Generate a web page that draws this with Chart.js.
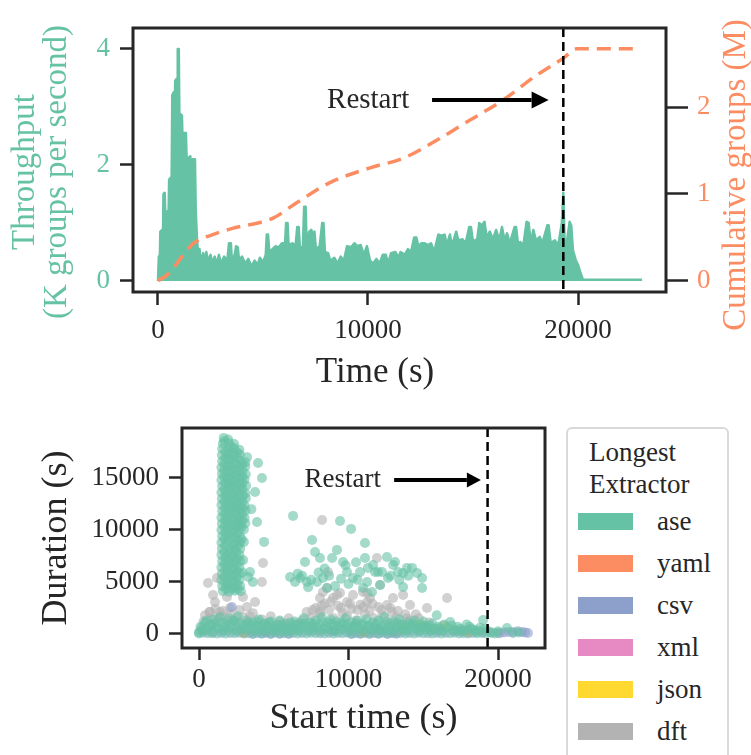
<!DOCTYPE html>
<html>
<head>
<meta charset="utf-8">
<script src="https://cdn.jsdelivr.net/npm/chart.js@4.4.1/dist/chart.umd.min.js"></script>
<style>
  html, body { margin: 0; padding: 0; background: #fff; width: 751px; height: 755px; overflow: hidden; }
  #topBox { position: absolute; left: 0; top: 0; width: 751px; height: 400px; }
  #bottomBox { position: absolute; left: 0; top: 400px; width: 751px; height: 355px; }
  #legend { position: absolute; left: 566px; top: 427px; width: 159px; height: 340px;
            border: 2px solid #d9d9d9; border-radius: 6px; background: #fff;
            font-family: "Liberation Serif", serif; color: #262626; }
  #legend .title { margin: 7px 0 0 21px; font-size: 27px; line-height: 32px; }
  #legend ul { list-style: none; margin: 0; padding: 0; }
  #legend li { height: 42px; display: flex; align-items: center; }
  #legend .patch { width: 55px; height: 17px; margin-left: 10px; }
  #legend .lab { margin-left: 24px; font-size: 27px; }
</style>
</head>
<body>
<div id="topBox"><canvas id="topChart" width="751" height="400"></canvas></div>
<div id="bottomBox"><canvas id="bottomChart" width="751" height="355"></canvas></div>
<div id="legend"></div>
<script>
// ---- top panel: throughput (K groups / s) and cumulative groups (M) over time (s)
const throughput = [
  [0,0],[40,0.42],[90,0.45],[110,0.85],[200,0.88],[230,0.6],[260,1.5],[320,1.52],[350,1.15],[450,1.2],
  [500,1.05],[530,1.75],[600,1.78],[640,1.3],[680,3.2],[740,3.25],[780,2.6],[820,3.45],[880,3.48],[920,2.9],
  [940,4.0],[990,4.0],[1020,2.8],[1060,2.88],[1140,2.85],[1180,2.3],[1240,2.55],[1330,2.55],[1380,1.9],[1440,2.12],
  [1540,2.15],[1600,1.7],[1660,2.1],[1760,2.1],[1800,1.2],[1860,0.7],[1920,0.45],[1980,0.55],[2050,0.3],[2150,0.48],
  [2250,0.35],[2300,0.5],[2400,0.32],[2500,0.45],[2600,0.3],[2700,0.42],[2800,0.28],[2900,0.45],[3000,0.3],[3150,0.42],
  [3300,0.35],[3380,0.65],[3470,0.65],[3520,0.35],[3650,0.45],[3720,0.6],[3800,0.58],[3860,0.35],[4000,0.42],[4150,0.3],
  [4300,0.38],[4450,0.25],[4600,0.35],[4750,0.28],[4850,0.4],[5000,0.32],[5130,0.45],[5180,0.8],[5240,0.8],[5300,0.5],
  [5450,0.55],[5600,0.6],[5750,0.58],[5900,0.65],[6050,0.65],[6100,1.0],[6170,1.0],[6220,0.62],[6400,0.65],[6550,0.6],
  [6630,0.93],[6700,0.93],[6760,0.55],[6900,0.6],[6960,1.28],[7030,1.28],[7080,0.6],[7200,0.85],[7300,0.88],[7380,0.8],
  [7450,0.85],[7520,0.55],[7700,0.6],[7820,1.0],[7880,1.0],[7950,0.5],[8100,0.48],[8200,0.35],[8400,0.4],[8550,0.3],
  [8700,0.42],[8850,0.35],[9000,0.6],[9200,0.58],[9350,0.65],[9500,0.6],[9650,0.62],[9800,0.45],[9950,0.6],[10100,0.35],
  [10250,0.3],[10400,0.38],[10550,0.3],[10700,0.45],[10850,0.45],[10950,0.3],[11100,0.48],[11300,0.5],[11450,0.4],[11550,0.5],
  [11750,0.45],[11900,0.55],[12050,0.5],[12200,0.75],[12300,0.75],[12400,0.6],[12550,0.65],[12700,0.65],[12850,0.62],[13000,0.65],
  [13150,0.5],[13350,0.8],[13500,0.78],[13650,0.8],[13750,0.62],[13900,0.8],[14000,0.6],[14200,0.85],[14300,0.7],[14500,0.72],
  [14650,0.65],[14820,0.93],[14900,0.93],[15000,0.68],[15200,0.72],[15300,1.0],[15400,0.95],[15550,1.02],[15650,0.75],[15800,0.85],
  [15950,0.72],[16100,0.88],[16250,0.7],[16380,0.93],[16500,0.7],[16620,0.82],[16750,0.65],[16980,0.93],[17050,0.93],[17150,0.62],
  [17250,0.67],[17400,0.62],[17550,1.02],[17650,1.0],[17750,0.65],[17870,0.88],[18000,0.7],[18180,0.76],[18300,0.65],[18540,0.96],
  [18600,0.96],[18700,0.65],[18900,0.7],[19050,0.6],[19230,1.0],[19300,1.52],[19360,0.7],[19450,0.62],[19600,1.02],[19680,0.95],
  [19760,0.53],[19900,0.35],[20000,0.28],[20100,0.16],[20240,0.02],[23050,0.02]
];
const cumulative = [
  [0,0],[450,0.07],[900,0.2],[1400,0.36],[1860,0.46],[2480,0.52],[3500,0.6],[5000,0.68],[5480,0.72],[6620,0.9],
  [8190,1.13],[10100,1.3],[11670,1.41],[13290,1.62],[14860,1.85],[16430,2.08],[18050,2.37],[19290,2.56],[19950,2.67],[22950,2.67]
];
const restartTime = 19300;
const timeTicks = [0, 10000, 20000];
const throughputTicks = [0, 2, 4];
const cumulativeTicks = [0, 1, 2];

// ---- bottom panel: job start time (s) vs duration (s), by longest extractor
const extractors = ['ase', 'yaml', 'csv', 'xml', 'json', 'dft'];
const extractorColors = ['#66c2a5', '#fc8d62', '#8da0cb', '#e78ac3', '#ffd92f', '#b3b3b3'];
const aseJobs = [
  [1650,18850],[1950,18700],[1600,18300],[2000,18350],[2350,18250],[1550,17800],[1950,17750],[2350,17850],[2700,17700],
  [1530,17200],[1930,17250],[2330,17150],[2730,17250],[1550,16600],[1950,16650],[2350,16550],[2750,16650],[3100,16500],
  [1500,16000],[1900,16050],[2300,15950],[2700,16000],[3100,16100],[1530,15400],[1930,15450],[2330,15350],[2730,15400],[3130,15350],
  [1500,14800],[1900,14850],[2300,14750],[2700,14800],[3050,14850],[1550,14200],[1950,14250],[2350,14150],[2750,14200],[3150,14250],
  [1500,13600],[1900,13650],[2300,13550],[2700,13600],[3100,13500],[1530,13000],[1930,13050],[2330,12950],[2730,13000],[3130,13050],
  [1500,12400],[1900,12450],[2300,12350],[2700,12400],[3050,12350],[1550,11800],[1950,11850],[2350,11750],[2750,11800],[3100,11850],
  [1500,11200],[1900,11250],[2300,11150],[2700,11200],[3050,11150],[1530,10600],[1930,10650],[2330,10550],[2730,10600],[3100,10650],
  [1500,10000],[1900,10050],[2300,9950],[2700,10000],[3000,10050],[1550,9400],[1950,9450],[2350,9350],[2750,9400],
  [1500,8800],[1900,8850],[2350,8750],[2750,8800],[3000,8850],[1530,8200],[2050,8250],[2400,8150],[2750,8200],
  [1500,7600],[1900,7650],[2300,7550],[2700,7600],[1550,7000],[1950,7050],[2350,6950],[2750,7000],[2950,7100],
  [1500,6400],[1900,6450],[2300,6350],[2700,6400],[1530,5800],[1930,5850],[2330,5750],[2730,5800],[2900,5900],
  [1500,5200],[1900,5250],[2300,5150],[2700,5200],[1550,4600],[1950,4650],[2350,4550],[2750,4600],
  [1600,4100],[2000,4050],[2400,4150],[2800,4100],
  [1700,18550],[2150,18000],[1750,17500],[2150,17450],[2550,17450],[1750,16900],[2150,16850],[2550,16950],[1700,16300],[2100,16250],
  [2500,16350],[2900,16300],[1700,15700],[2100,15750],[2500,15650],[2900,15700],[1700,15100],[2100,15050],[2500,15150],[2900,15100],
  [1750,14500],[2150,14550],[2550,14450],[2900,14500],[1700,13900],[2100,13950],[2500,13850],[2900,13900],[1750,13300],[2150,13300],
  [2550,13250],[2950,13300],[1700,12700],[2100,12700],[2500,12650],[2900,12700],[1750,12100],[2150,12100],[2550,12050],[2900,12100],
  [1700,11500],[2100,11500],[2500,11450],[2900,11500],[1750,10900],[2150,10900],[2550,10850],[2900,10900],[1700,10300],[2100,10300],
  [2500,10250],[2850,10300],[1750,9700],[2150,9700],[2550,9650],[1700,9100],[2100,9100],[2550,9050],[2850,9100],[1750,8500],
  [2250,8500],[2600,8450],[1700,7900],[2100,7900],[2500,7850],[1750,7300],[2150,7300],[2550,7250],[1700,6700],[2100,6700],
  [2500,6650],[1750,6100],[2150,6100],[2550,6050],[1700,5500],[2100,5500],[2500,5450],[1750,4900],[2150,4900],[2550,4850],
  [1800,4350],[2200,4350],[2600,4300],
  [3210,17000],[3950,16440],[4210,15000],[3750,13650],[3500,12000],[3880,10770],[4350,8850],[3410,5960],[3300,5480],[3600,5000],
  [6290,11350],[6090,5480],[6420,5000],[6760,5380],[7220,5000],[7090,6920],[7560,9040],[7760,7880],[8090,7300],[8290,5380],
  [7890,5000],[8560,4420],[8900,7300],[9230,8080],[9430,10860],[9630,6920],[9900,5960],[10170,10100],[10300,5380],[10770,5960],
  [11100,8750],[11240,5000],[11640,6630],[11970,5960],[11100,7300],[11300,6350],[10970,4420],[11770,5960],[12240,5960],[12570,7400],
  [12640,5380],[12980,6630],[13110,6920],[13310,5960],[13650,4520],[13910,6350],[14250,6350],[14580,5870],[14920,5380],[14920,4420],
  [13650,5870],[12110,4710],[11570,4040],[6900,5600],[7500,5200],[8000,5900],[8700,5600],[9500,5300],[10000,4800],[10600,5200],
  [9100,4600],[7300,4500],[6600,5800],[8400,6300],[9800,6600],[10500,6900],[12800,5600],[13400,5200],[14000,5600],
  [0,150],[200,600],[400,1100],[600,400],[800,900],[1000,1400],[1200,700],[1400,1600],[1600,300],[1800,1000],
  [2000,1500],[2200,600],[2400,1200],[2600,1700],[2800,400],[3000,900],[3200,1300],[3400,500],[3600,1100],[3800,800],
  [4000,1400],[4200,300],[4400,1000],[4600,700],[4800,1200],[5000,400],[5200,900],[5400,1300],[5600,600],[5800,1000],
  [6000,300],[6200,800],[6400,1200],[6600,500],[6800,1000],[7000,1500],[7200,700],[7400,1100],[7600,400],[7800,1300],
  [8000,900],[8200,1600],[8400,500],[8600,1100],[8800,1400],[9000,700],[9200,1200],[9400,400],[9600,1000],[9800,1500],
  [10000,600],[10200,1100],[10400,800],[10600,1300],[10800,400],[11000,1000],[11200,1400],[11400,700],[11600,1100],[11800,500],
  [12000,1300],[12200,800],[12400,1600],[12600,400],[12800,1000],[13000,1200],[13200,600],[13400,1400],[13600,900],[13800,300],
  [14000,1100],[14200,700],[14400,1300],[14600,500],[14800,900],[15000,1200],[15200,400],[15400,800],[15600,1000],[15900,1800],
  [16100,500],[16400,900],[16800,1150],[17000,400],[17300,700],[17600,300],[17900,900],[18200,500],[18500,200],[18800,600],
  [19000,1350],[19300,300],[19600,150],[20000,250],[20600,580],[21000,200],[21400,150],
  [100,700],[300,300],[500,1300],[700,800],[900,200],[1100,1000],[1300,500],[1500,1100],[1700,700],[1900,400],
  [2100,900],[2300,1300],[2500,300],[2700,1000],[2900,700],[3100,400],[3300,1000],[3500,800],[3700,300],[3900,1200],
  [4100,600],[4300,900],[4500,400],[4700,1100],[4900,800],[5100,300],[5300,600],[5500,900],[5700,300],[5900,600],
  [6100,1100],[6300,400],[6500,900],[6700,300],[6900,700],[7100,1000],[7300,300],[7500,800],[7700,1000],[7900,600],
  [8100,300],[8300,1100],[8500,800],[8700,400],[8900,1000],[9100,300],[9300,800],[9500,1100],[9700,500],[9900,900],
  [10100,300],[10300,700],[10500,1000],[10700,600],[10900,900],[11100,300],[11300,800],[11500,400],[11700,700],[11900,1000],
  [12100,500],[12300,300],[12500,900],[12700,700],[12900,300],[13100,800],[13300,1000],[13500,400],[13700,600],[13900,800],
  [14100,400],[14300,900],[14500,800],[14700,300],[14900,600],[15100,800],[15300,600],[15500,300],[15700,500],[16000,700],
  [16300,300],[16600,600],[16900,800],[17200,300],[17500,500],[17800,300],[18100,700],[18400,400],[18700,300],[19100,500],
  [0,50],[600,60],[1200,40],[1800,50],[2400,60],[3000,40],[3600,50],[4200,60],[4800,40],[5400,50],[6000,60],[6600,40],
  [7200,50],[7800,60],[8400,40],[9000,50],[9600,60],[10200,40],[10800,50],[11400,60],[12000,40],[12600,50],[13200,60],
  [13800,40],[14400,50],[15000,60],[15600,40],[16200,50],[16800,60],[17400,40],[18000,50],[18600,60],[19200,40],[19800,50]
];
const yamlJobs = [[3000,100],[11000,200],[18000,150]];
const csvJobs = [
  [300,120],[900,80],[1500,100],[2100,90],[2700,110],[3300,80],[3900,100],[4500,90],[5100,110],[5700,80],[6300,100],
  [6900,90],[7500,110],[8100,80],[8700,100],[9300,90],[9900,110],[10500,80],[11100,100],[11700,90],[12300,110],[12900,80],
  [13500,100],[14100,90],[14700,110],[15300,80],[15900,100],[16500,90],[17100,110],[17700,80],[18300,100],[18900,90],
  [19500,110],[20100,80],[20700,200],[21300,250],[21800,150],[22000,100],
  [3600,0],[4200,20],[4800,0],[5400,20],[6000,0],[10200,0],[10800,20],[11400,0],[12000,20],[12600,0],[13200,20],
  [2200,2600],[5000,350],[9000,300],[12000,400],[16000,300],[20400,150],[21000,100],[21600,200]
];
const xmlJobs = [[4500,200],[9000,300],[13000,150],[17500,250]];
const jsonJobs = [[13500,600],[14800,900],[15600,400],[16500,700],[17200,350]];
const dftJobs = [
  [100,300],[400,1800],[700,2100],[900,900],[1100,2400],[1300,1500],[1600,2200],[1900,1300],[2100,1900],[2400,800],
  [2700,2300],[3000,1600],[3300,1100],[3600,2000],[3900,700],[4200,1400],[4500,900],[4800,1700],[5100,500],[5400,1200],
  [5700,800],[6000,1500],[6300,600],[6600,1000],[6900,1300],[7200,2100],[7500,1600],[7800,2500],[8100,1900],[8400,2900],
  [8700,2300],[9000,1500],[9300,2700],[9600,2000],[9900,1700],[10200,2400],[10500,1300],[10800,2800],[11100,1900],[11400,2200],
  [11700,1500],[12000,2600],[12300,1800],[12600,1200],[12900,2100],[13200,1600],[13500,900],[13800,1900],[14100,1300],[14400,1000],
  [14700,1500],[15000,700],[15400,1100],[15800,500],[16300,800],[17000,300],[18000,400],[19000,200],[20000,100],
  [600,4900],[1200,5380],[940,3750],[1070,3080],[1870,3560],[2940,3560],[3750,3080],[3210,2600],[4280,6830],[4210,5000],
  [8230,10960],[8630,5960],[8290,4040],[8960,3460],[9430,3940],[9900,3080],[10300,3750],[10970,4040],[11900,7300],[12110,4710],
  [11240,3080],[8090,3460],[8090,2120],[2070,2500],[1400,2120],[740,2120],[16590,3460],[12980,3460],[11440,3460],[13650,3750],
  [14110,2790],[12570,2790],[15250,2500],[8560,4420],[9230,3750],[11240,3940],
  [300,1200],[800,1500],[1500,1800],[2500,1500],[3400,1700],[7600,2300],[8200,2700],[8800,3100],[9500,2500],[10100,2900],
  [10600,2300],[11000,2600],[11600,2900],[12200,2300],[12800,2500],[13300,2200],[13900,1500],[14500,1900]
];
const jobsByExtractor = [aseJobs, yamlJobs, csvJobs, xmlJobs, jsonJobs, dftJobs];
const durationTicks = [0, 5000, 10000, 15000];
const startTicks = [0, 10000, 20000];

const FONT = '"Liberation Serif", serif';
const INK = '#262626';
Chart.defaults.font.family = FONT;
Chart.defaults.color = INK;

function fixedTicks(values) {
  return function (scale) { scale.ticks = values.map(v => ({ value: v })); };
}
function fixedWidth(w) { return function (scale) { scale.width = w; }; }
function fixedHeight(h) { return function (scale) { scale.height = h; }; }
function plain(v) { return String(v); }
function toPoints(pairs) { return pairs.map(p => ({ x: p[0], y: p[1] })); }
function rgba(hex, a) {
  const n = parseInt(hex.slice(1), 16);
  return 'rgba(' + (n >> 16) + ',' + ((n >> 8) & 255) + ',' + (n & 255) + ',' + a + ')';
}

function axisGrid(len) {
  return { drawOnChartArea: false, drawTicks: true, tickLength: len, tickWidth: 2.5, tickColor: INK, color: INK };
}

const framePlugin = {
  id: 'frame',
  afterDraw(chart) {
    const a = chart.chartArea, ctx = chart.ctx;
    ctx.save();
    ctx.strokeStyle = INK;
    ctx.lineWidth = 3;
    ctx.strokeRect(a.left, a.top, a.right - a.left, a.bottom - a.top);
    ctx.restore();
  }
};

const restartPlugin = {
  id: 'restart',
  afterDatasetsDraw(chart, args, o) {
    const xs = chart.scales.x, ys = chart.scales[o.yAxis];
    const a = chart.chartArea, ctx = chart.ctx;
    const px = xs.getPixelForValue(restartTime);
    ctx.save();
    ctx.strokeStyle = '#000';
    ctx.fillStyle = '#000';
    ctx.lineWidth = 2.5;
    ctx.setLineDash([9, 5]);
    ctx.beginPath();
    ctx.moveTo(px, a.top);
    ctx.lineTo(px, a.bottom);
    ctx.stroke();
    ctx.setLineDash([]);
    const ty = ys.getPixelForValue(o.labelY);
    ctx.font = o.fontSize + 'px ' + FONT;
    ctx.fillStyle = INK;
    ctx.textAlign = 'left';
    ctx.textBaseline = 'middle';
    ctx.fillText('Restart', xs.getPixelForValue(restartTime - o.labelBack), ty);
    const x0 = xs.getPixelForValue(restartTime - o.arrowBack);
    const x1 = xs.getPixelForValue(restartTime - o.arrowGap);
    ctx.fillStyle = '#000';
    ctx.lineWidth = 4;
    ctx.beginPath();
    ctx.moveTo(x0, ty);
    ctx.lineTo(x1 - o.head, ty);
    ctx.stroke();
    ctx.beginPath();
    ctx.moveTo(x1, ty);
    ctx.lineTo(x1 - o.head, ty - o.half);
    ctx.lineTo(x1 - o.head, ty + o.half);
    ctx.closePath();
    ctx.fill();
    ctx.restore();
  }
};

// axis titles of the top panel (right one reads bottom-to-top like the left)
const titlePlugin = {
  id: 'titles',
  afterDraw(chart, args, o) {
    const ctx = chart.ctx;
    (o.items || []).forEach(t => {
      ctx.save();
      ctx.translate(t.x, t.y);
      if (t.rotate) ctx.rotate(-Math.PI / 2);
      ctx.font = t.size + 'px ' + FONT;
      ctx.fillStyle = t.color;
      ctx.textAlign = 'center';
      ctx.textBaseline = 'middle';
      ctx.fillText(t.text, 0, 0);
      ctx.restore();
    });
  }
};

new Chart(document.getElementById('topChart'), {
  type: 'line',
  data: {
    datasets: [{
      label: 'Cumulative groups',
      data: toPoints(cumulative),
      yAxisID: 'y1',
      order: 0,
      borderColor: '#fc8d62',
      borderWidth: 3.5,
      borderDash: [14, 8],
      pointRadius: 0,
      fill: false,
      cubicInterpolationMode: 'monotone'
    }, {
      label: 'Throughput',
      data: toPoints(throughput),
      yAxisID: 'y',
      order: 1,
      borderColor: '#66c2a5',
      backgroundColor: '#66c2a5',
      borderWidth: 2.5,
      borderJoinStyle: 'round',
      pointRadius: 0,
      fill: 'origin',
      tension: 0
    }]
  },
  options: {
    responsive: false,
    animation: false,
    events: [],
    layout: { padding: { top: 28, left: 0, right: 0, bottom: 0 } },
    plugins: {
      legend: { display: false },
      tooltip: { enabled: false },
      restart: { yAxis: 'y', labelY: 3.12, labelBack: 11250, arrowBack: 6250, arrowGap: 700, fontSize: 29, head: 17, half: 8.5 },
      titles: { items: [
        { text: 'Throughput', x: 25, y: 172, rotate: true, size: 33, color: '#66c2a5' },
        { text: '(K groups per second)', x: 57, y: 172, rotate: true, size: 33, color: '#66c2a5' },
        { text: 'Cumulative groups (M)', x: 736, y: 175, rotate: true, size: 33, color: '#fc8d62' },
        { text: 'Time (s)', x: 375, y: 373, rotate: false, size: 35, color: INK }
      ] }
    },
    scales: {
      x: {
        type: 'linear', min: -1190, max: 24190,
        afterBuildTicks: fixedTicks(timeTicks),
        afterFit: fixedHeight(108),
        grid: axisGrid(13),
        border: { display: false },
        ticks: { font: { size: 27 }, color: INK, padding: 10, callback: plain }
      },
      y: {
        type: 'linear', position: 'left', min: -0.19, max: 4.36,
        afterBuildTicks: fixedTicks(throughputTicks),
        afterFit: fixedWidth(133),
        grid: axisGrid(13),
        border: { display: false },
        ticks: { font: { size: 27 }, color: '#66c2a5', padding: 10, callback: plain }
      },
      y1: {
        type: 'linear', position: 'right', min: -0.13, max: 2.91,
        afterBuildTicks: fixedTicks(cumulativeTicks),
        afterFit: fixedWidth(85),
        grid: axisGrid(22),
        border: { display: false },
        ticks: { font: { size: 27 }, color: '#fc8d62', padding: 9, callback: plain }
      }
    }
  },
  plugins: [framePlugin, restartPlugin, titlePlugin]
});

const htmlLegendPlugin = {
  id: 'htmlLegend',
  afterUpdate(chart) {
    const box = document.getElementById('legend');
    box.innerHTML = '';
    const title = document.createElement('div');
    title.className = 'title';
    title.innerHTML = 'Longest<br>Extractor';
    box.appendChild(title);
    const ul = document.createElement('ul');
    chart.data.datasets.forEach(ds => {
      const li = document.createElement('li');
      const patch = document.createElement('span');
      patch.className = 'patch';
      patch.style.background = ds.legendColor;
      const lab = document.createElement('span');
      lab.className = 'lab';
      lab.textContent = ds.label;
      li.appendChild(patch);
      li.appendChild(lab);
      ul.appendChild(li);
    });
    box.appendChild(ul);
  }
};

new Chart(document.getElementById('bottomChart'), {
  type: 'scatter',
  data: {
    datasets: extractors.map((name, i) => ({
      label: name,
      data: toPoints(jobsByExtractor[i]),
      legendColor: extractorColors[i],
      backgroundColor: rgba(extractorColors[i], 0.6),
      pointBackgroundColor: rgba(extractorColors[i], 0.6),
      borderWidth: 0,
      pointBorderWidth: 0,
      pointBorderColor: 'rgba(0,0,0,0)',
      pointRadius: 5,
      pointHoverRadius: 5
    }))
  },
  options: {
    responsive: false,
    animation: false,
    events: [],
    layout: { padding: { top: 28, left: 0, right: 206, bottom: 0 } },
    plugins: {
      legend: { display: false },
      tooltip: { enabled: false },
      restart: { yAxis: 'y', labelY: 14800, labelBack: 12250, arrowBack: 6250, arrowGap: 450, fontSize: 27, head: 14, half: 7.5 }
    },
    scales: {
      x: {
        type: 'linear', min: -1137, max: 23140,
        afterBuildTicks: fixedTicks(startTicks),
        afterFit: fixedHeight(107),
        grid: axisGrid(12),
        border: { display: false },
        ticks: { font: { size: 27 }, color: INK, padding: 4, callback: plain },
        title: { display: true, text: 'Start time (s)', font: { size: 36 }, color: INK, padding: { top: 0, bottom: 15 } }
      },
      y: {
        type: 'linear', min: -1350, max: 19800,
        afterBuildTicks: fixedTicks(durationTicks),
        afterFit: fixedWidth(182),
        grid: axisGrid(13),
        border: { display: false },
        ticks: { font: { size: 27 }, color: INK, padding: 10, callback: plain },
        title: { display: true, text: 'Duration (s)', font: { size: 36 }, color: INK, padding: { top: 35, bottom: 0 } }
      }
    }
  },
  plugins: [framePlugin, restartPlugin, htmlLegendPlugin]
});
</script>
</body>
</html>
